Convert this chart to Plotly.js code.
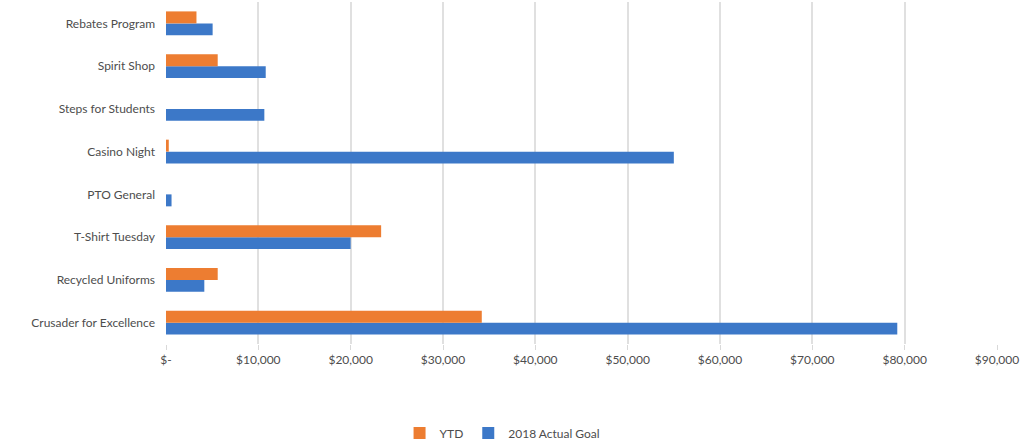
<!DOCTYPE html>
<html>
<head>
<meta charset="utf-8">
<script src="https://cdn.plot.ly/plotly-3.0.1.min.js"></script>
<style>html,body{margin:0;padding:0;background:#fff;}#chart{width:1029px;height:448px;}</style>
</head>
<body>
<div id="chart"></div>
<script>
const categories = ["Crusader for Excellence", "Recycled Uniforms", "T-Shirt Tuesday", "PTO General", "Casino Night", "Steps for Students", "Spirit Shop", "Rebates Program"];
const ytd = [34200, 5600, 23300, 0, 300, 0, 5600, 3300];
const goal2018 = [79200, 4150, 20000, 600, 55000, 10650, 10800, 5050];
const tickValues = [0, 10000, 20000, 30000, 40000, 50000, 60000, 70000, 80000, 90000];
const tickLabels = ["$-", "$10,000", "$20,000", "$30,000", "$40,000", "$50,000", "$60,000", "$70,000", "$80,000", "$90,000"];

const traces = [
  {type: "bar", orientation: "h", name: "2018 Actual Goal", y: categories, x: goal2018,
   marker: {color: "#3C78C8"}, hoverinfo: "x+name"},
  {type: "bar", orientation: "h", name: "YTD", y: categories, x: ytd,
   marker: {color: "#ED7D31"}, hoverinfo: "x+name"}
];

const layout = {
  width: 1029, height: 448,
  margin: {l: 166, r: 32, t: 2, b: 104, autoexpand: false},
  paper_bgcolor: "#fff", plot_bgcolor: "#fff",
  barmode: "group", bargap: 0.44, bargroupgap: 0,
  font: {family: "Lato, 'Open Sans', sans-serif", size: 12, color: "#4d4d4d"},
  xaxis: {range: [0, 90000], tickvals: tickValues, ticktext: tickLabels, tickangle: 0,
    showgrid: true, gridcolor: "#e0e0e0", gridwidth: 2, zeroline: false,
    ticks: "outside", ticklen: 5, tickcolor: "#d9d9d9", tickwidth: 1,
    showline: false, tickfont: {size: 12, color: "#4d4d4d"}, fixedrange: true},
  yaxis: {type: "category", showgrid: false, zeroline: false, ticks: "",
    ticklabelstandoff: 10, tickfont: {size: 12, color: "#4d4d4d"}, fixedrange: true},
  showlegend: true,
  legend: {orientation: "h", traceorder: "reversed", x: 0.405, xanchor: "center",
    y: -0.26, yanchor: "middle", font: {size: 12, color: "#4d4d4d"}, itemwidth: 30},
};

Plotly.newPlot("chart", traces, layout, {displayModeBar: false, staticPlot: true});
</script>
</body>
</html>
